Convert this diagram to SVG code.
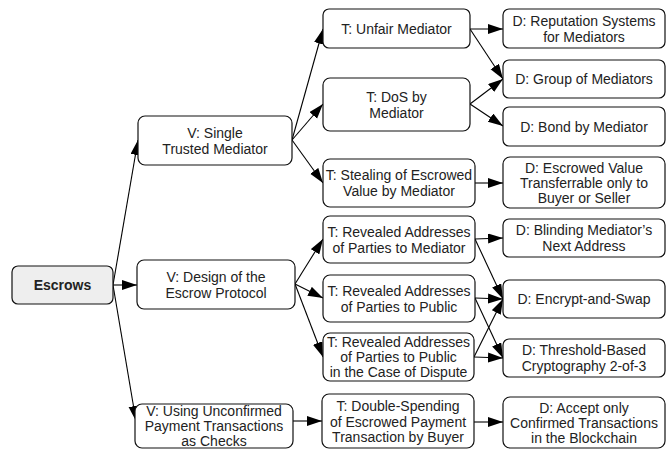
<svg xmlns="http://www.w3.org/2000/svg" width="668" height="449" viewBox="0 0 668 449">
<style>
rect.n{fill:#fff;stroke:#111;stroke-width:1.2}
rect.root{fill:#eeeeee;stroke:#111;stroke-width:1.2}
text{font-family:"Liberation Sans",Arial,sans-serif;font-size:14px;fill:#222;text-anchor:middle}
text.b{font-weight:bold}
#edges path{fill:none;stroke:#000;stroke-width:1.1;marker-end:url(#ah)}
</style>
<defs>
<marker id="ah" markerUnits="userSpaceOnUse" markerWidth="16" markerHeight="11" refX="15" refY="5" orient="auto">
<path d="M0,0 L15,5 L0,10 z" fill="#000"/>
</marker>
</defs>
<rect width="668" height="449" fill="#fff"/>
<g id="edges">
<path d="M113,285 L138,140"/>
<path d="M113,285 L137,285"/>
<path d="M113,285 L136,421"/>
<path d="M292,140 L323,29"/>
<path d="M292,140 L323,104"/>
<path d="M292,140 L323,183"/>
<path d="M470,29 L503,29"/>
<path d="M470,29 L503,79"/>
<path d="M470,104 L503,79"/>
<path d="M470,104 L503,126"/>
<path d="M475,183 L503,183"/>
<path d="M295,284 L323,239"/>
<path d="M295,284 L323,298"/>
<path d="M295,284 L323,357"/>
<path d="M475,239 L503,238"/>
<path d="M475,239 L503,299"/>
<path d="M475,298 L503,299"/>
<path d="M475,298 L503,358"/>
<path d="M474,357 L503,299"/>
<path d="M474,357 L503,358"/>
<path d="M293,421 L322,421"/>
<path d="M474,422 L503,422"/>
</g>
<g id="escrows"><rect class="root" x="12" y="266" width="101" height="38" rx="6"/><text class="b" x="62.5" y="290">Escrows</text></g>
<g id="v1"><rect class="n" x="138" y="116" width="154" height="49" rx="7"/><text x="215" y="137.5">V: Single</text><text x="215" y="153.5">Trusted Mediator</text></g>
<g id="v2"><rect class="n" x="137" y="260" width="158" height="49" rx="7"/><text x="216" y="281.5">V: Design of the</text><text x="216" y="297.5">Escrow Protocol</text></g>
<g id="v3"><rect class="n" x="135" y="404" width="158" height="44" rx="7"/><text x="214" y="416">V: Using Unconfirmed</text><text x="214" y="431">Payment Transactions</text><text x="214" y="446">as Checks</text></g>
<g id="t1"><rect class="n" x="323" y="9" width="147" height="39" rx="6"/><text x="396.5" y="33.5">T: Unfair Mediator</text></g>
<g id="t2"><rect class="n" x="323" y="78" width="147" height="53" rx="7"/><text x="396.5" y="101.5">T: DoS by</text><text x="396.5" y="117.5">Mediator</text></g>
<g id="t3"><rect class="n" x="323" y="159" width="152" height="48" rx="7"/><text x="399" y="180">T: Stealing of Escrowed</text><text x="399" y="196">Value by Mediator</text></g>
<g id="t4"><rect class="n" x="323" y="216" width="152" height="47" rx="7"/><text x="399" y="236.5">T: Revealed Addresses</text><text x="399" y="252.5">of Parties to Mediator</text></g>
<g id="t5"><rect class="n" x="323" y="275" width="152" height="47" rx="7"/><text x="399" y="295.5">T: Revealed Addresses</text><text x="399" y="311.5">of Parties to Public</text></g>
<g id="t6"><rect class="n" x="323" y="333" width="151" height="48" rx="7"/><text x="398.5" y="347">T: Revealed Addresses</text><text x="398.5" y="362">of Parties to Public</text><text x="398.5" y="377">in the Case of Dispute</text></g>
<g id="t7"><rect class="n" x="322" y="394" width="152" height="54" rx="7"/><text x="398" y="411">T: Double-Spending</text><text x="398" y="426.5">of Escrowed Payment</text><text x="398" y="442">Transaction by Buyer</text></g>
<g id="d1"><rect class="n" x="503" y="9" width="162" height="39" rx="6"/><text x="584" y="25.5">D: Reputation Systems</text><text x="584" y="41.5">for Mediators</text></g>
<g id="d2"><rect class="n" x="503" y="60" width="162" height="38" rx="6"/><text x="584" y="84">D: Group of Mediators</text></g>
<g id="d3"><rect class="n" x="503" y="107" width="162" height="39" rx="6"/><text x="584" y="131.5">D: Bond by Mediator</text></g>
<g id="d4"><rect class="n" x="503" y="157" width="162" height="51" rx="7"/><text x="584" y="172.5">D: Escrowed Value</text><text x="584" y="187.5">Transferrable only to</text><text x="584" y="202.5">Buyer or Seller</text></g>
<g id="d5"><rect class="n" x="503" y="219" width="162" height="38" rx="6"/><text x="584" y="235">D: Blinding Mediator’s</text><text x="584" y="251">Next Address</text></g>
<g id="d6"><rect class="n" x="503" y="280" width="162" height="38" rx="6"/><text x="584" y="304">D: Encrypt-and-Swap</text></g>
<g id="d7"><rect class="n" x="503" y="339" width="162" height="38" rx="6"/><text x="584" y="355">D: Threshold-Based</text><text x="584" y="371">Cryptography 2-of-3</text></g>
<g id="d8"><rect class="n" x="503" y="397" width="162" height="51" rx="7"/><text x="584" y="412.5">D: Accept only</text><text x="584" y="427.5">Confirmed Transactions</text><text x="584" y="442.5">in the Blockchain</text></g>
</svg>
